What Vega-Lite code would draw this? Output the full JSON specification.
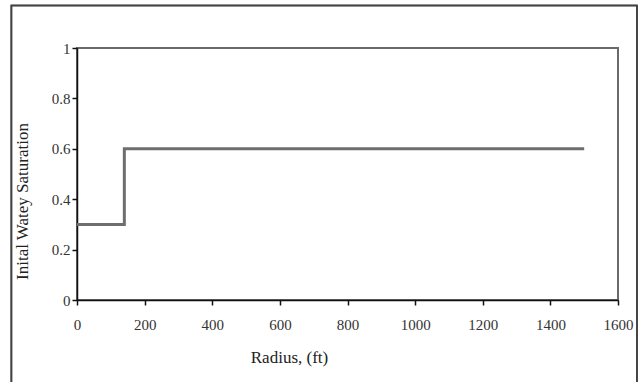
{
  "$schema": "https://vega.github.io/schema/vega-lite/v6.json",
  "width": 541,
  "height": 252,
  "autosize": "none",
  "padding": {"left": 77, "top": 48, "right": 26, "bottom": 82},
  "background": "white",
  "config": {
    "view": {"stroke": "#6a6a6a", "strokeWidth": 2},
    "font": "Liberation Serif"
  },
  "data": {"values": [
    {"radius": 0, "sw": 0.3},
    {"radius": 140, "sw": 0.6},
    {"radius": 1500, "sw": 0.6}
  ]},
  "layer": [
    {
      "mark": {"type": "rect", "fill": null, "stroke": "#444444", "strokeWidth": 1.5, "clip": false},
      "encoding": {
        "x": {"datum": -194, "type": "quantitative", "scale": {"domain": [0, 1600], "nice": false}},
        "x2": {"datum": 1656},
        "y": {"datum": 1.169, "type": "quantitative", "scale": {"domain": [0, 1], "nice": false}},
        "y2": {"datum": -0.37}
      }
    },
    {
      "mark": {"type": "line", "interpolate": "step-after", "color": "#6e6e6e", "strokeWidth": 3},
      "encoding": {
        "x": {
          "field": "radius", "type": "quantitative",
          "scale": {"domain": [0, 1600], "nice": false},
          "axis": {
            "title": "Radius, (ft)",
            "values": [0, 200, 400, 600, 800, 1000, 1200, 1400, 1600],
            "format": "d",
            "grid": false,
            "domainColor": "#111111", "domainWidth": 1.5,
            "tickColor": "#111111", "tickSize": 5, "tickWidth": 1.5,
            "labelFont": "Liberation Serif", "labelFontSize": 15, "labelColor": "#333333",
            "labelPadding": 12, "labelFlush": false,
            "titleFont": "Liberation Serif", "titleFontSize": 17, "titleFontWeight": "normal", "titleColor": "#222222",
            "titleX": 212, "titleY": 57, "titleBaseline": "middle", "titleAlign": "center"
          }
        },
        "y": {
          "field": "sw", "type": "quantitative",
          "scale": {"domain": [0, 1], "nice": false},
          "axis": {
            "title": "Inital Watey Saturation",
            "values": [0, 0.2, 0.4, 0.6, 0.8, 1],
            "format": "~g",
            "grid": false,
            "domainColor": "#111111", "domainWidth": 1.5,
            "tickColor": "#111111", "tickSize": 5, "tickWidth": 1.5,
            "labelFont": "Liberation Serif", "labelFontSize": 15, "labelColor": "#333333",
            "labelPadding": 2, "labelFlush": false,
            "titleFont": "Liberation Serif", "titleFontSize": 17, "titleFontWeight": "normal", "titleColor": "#222222",
            "titleX": -55, "titleY": 153, "titleBaseline": "middle", "titleAlign": "center", "titleAngle": -90
          }
        }
      }
    }
  ]
}
